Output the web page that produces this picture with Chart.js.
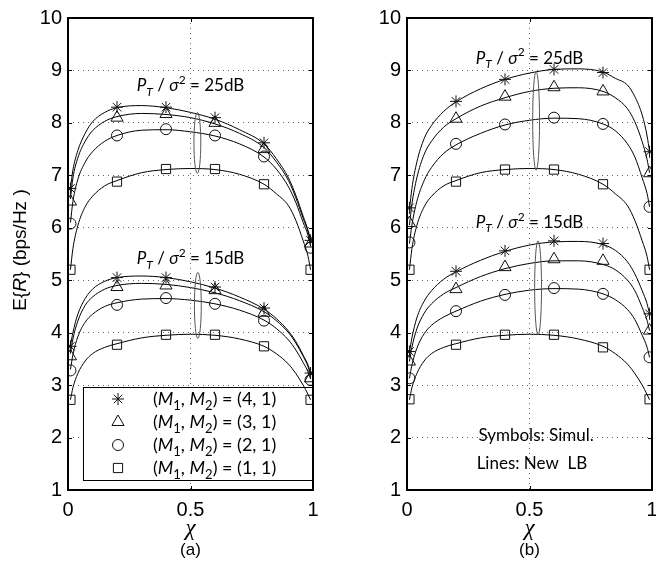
<!DOCTYPE html>
<html>
<head>
<meta charset="utf-8">
<script src="https://cdn.jsdelivr.net/npm/chart.js@4.4.1/dist/chart.umd.min.js"></script>
<style>
  html, body { margin: 0; padding: 0; background: #fff; overflow: hidden; }
  #wrap { position: relative; width: 656px; height: 564px; overflow: hidden; }
  #pa { position: absolute; left: 0; top: 0; }
  #pb { position: absolute; left: 330px; top: 0; }
</style>
</head>
<body>
<div id="wrap">
  <canvas id="pa" width="330" height="564"></canvas>
  <canvas id="pb" width="340" height="564"></canvas>
</div>
<script>
// x positions of the simulated points and of the lower-bound curves
const simX  = [0.01, 0.2, 0.4, 0.6, 0.8, 0.99];
const lineX = [0.01, 0.02, 0.04, 0.07, 0.1, 0.15, 0.2, 0.3, 0.4, 0.5, 0.6, 0.7, 0.8, 0.85, 0.9, 0.93, 0.96, 0.98, 0.99];
const seriesLabels = ['(4, 1)', '(3, 1)', '(2, 1)', '(1, 1)'];
const markerStyles = ['star', 'triangle', 'circle', 'rect'];
const yTicks = [1, 2, 3, 4, 5, 6, 7, 8, 9, 10];
const xTicks = [0, 0.5, 1];

// panel (a), symbols: simulation
const a25Sim41 = [6.75, 8.30, 8.30, 8.10, 7.62, 5.76];
const a25Sim31 = [6.50, 8.10, 8.17, 8.00, 7.50, 5.70];
const a25Sim21 = [6.08, 7.76, 7.88, 7.76, 7.36, 5.62];
const a25Sim11 = [5.20, 6.88, 7.12, 7.12, 6.83, 5.20];
const a15Sim41 = [3.74, 5.05, 5.05, 4.87, 4.47, 3.23];
const a15Sim31 = [3.55, 4.87, 4.90, 4.81, 4.38, 3.13];
const a15Sim21 = [3.28, 4.53, 4.66, 4.55, 4.23, 3.10];
const a15Sim11 = [2.72, 3.77, 3.96, 3.96, 3.74, 2.72];

// panel (a), lines: new lower bound
const a25Lb41 = [6.75, 7.10, 7.47, 7.80, 8.02, 8.20, 8.29, 8.33, 8.29, 8.20, 8.07, 7.87, 7.60, 7.32, 6.95, 6.62, 6.22, 5.95, 5.78];
const a25Lb31 = [6.55, 6.95, 7.33, 7.65, 7.85, 8.03, 8.12, 8.18, 8.16, 8.10, 7.98, 7.80, 7.53, 7.26, 6.90, 6.57, 6.18, 5.92, 5.74];
const a25Lb21 = [6.10, 6.50, 6.92, 7.25, 7.45, 7.65, 7.76, 7.86, 7.87, 7.83, 7.75, 7.60, 7.35, 7.12, 6.78, 6.48, 6.10, 5.85, 5.65];
const a25Lb11 = [5.20, 5.60, 6.04, 6.40, 6.60, 6.80, 6.90, 7.05, 7.11, 7.13, 7.11, 7.02, 6.83, 6.65, 6.42, 6.14, 5.75, 5.45, 5.20];
const a15Lb41 = [3.75, 4.00, 4.35, 4.65, 4.83, 4.98, 5.05, 5.08, 5.05, 4.97, 4.85, 4.68, 4.45, 4.27, 4.03, 3.83, 3.57, 3.38, 3.25];
const a15Lb31 = [3.60, 3.88, 4.22, 4.52, 4.68, 4.83, 4.90, 4.94, 4.92, 4.86, 4.76, 4.61, 4.40, 4.23, 4.00, 3.80, 3.55, 3.35, 3.20];
const a15Lb21 = [3.30, 3.58, 3.92, 4.20, 4.35, 4.50, 4.57, 4.64, 4.65, 4.62, 4.55, 4.43, 4.24, 4.08, 3.86, 3.67, 3.43, 3.25, 3.12];
const a15Lb11 = [2.72, 2.95, 3.22, 3.46, 3.60, 3.72, 3.79, 3.90, 3.95, 3.97, 3.95, 3.88, 3.74, 3.60, 3.40, 3.22, 3.00, 2.82, 2.72];

// panel (b), symbols: simulation
const b25Sim41 = [6.38, 8.41, 8.83, 9.02, 8.96, 7.45];
const b25Sim31 = [6.09, 8.08, 8.50, 8.68, 8.60, 7.04];
const b25Sim21 = [5.72, 7.60, 7.97, 8.10, 7.98, 6.40];
const b25Sim11 = [5.20, 6.88, 7.11, 7.11, 6.83, 5.20];
const b15Sim41 = [3.64, 5.17, 5.56, 5.75, 5.70, 4.36];
const b15Sim31 = [3.45, 4.83, 5.25, 5.40, 5.37, 4.04];
const b15Sim21 = [3.13, 4.41, 4.72, 4.85, 4.74, 3.53];
const b15Sim11 = [2.73, 3.77, 3.96, 3.96, 3.72, 2.73];

// panel (b), lines: new lower bound
const b25Lb41 = [6.35, 6.75, 7.25, 7.70, 7.95, 8.22, 8.40, 8.65, 8.83, 8.95, 9.02, 9.03, 8.97, 8.85, 8.72, 8.50, 8.15, 7.75, 7.45];
const b25Lb31 = [6.05, 6.45, 6.95, 7.40, 7.65, 7.92, 8.08, 8.32, 8.48, 8.60, 8.66, 8.67, 8.60, 8.48, 8.27, 8.02, 7.64, 7.30, 7.05];
const b25Lb21 = [5.70, 6.05, 6.50, 6.90, 7.15, 7.42, 7.58, 7.80, 7.96, 8.05, 8.09, 8.08, 7.98, 7.85, 7.60, 7.35, 6.95, 6.65, 6.40];
const b25Lb11 = [5.20, 5.60, 6.04, 6.40, 6.60, 6.80, 6.90, 7.05, 7.11, 7.13, 7.11, 7.02, 6.83, 6.65, 6.42, 6.14, 5.75, 5.45, 5.20];
const b15Lb41 = [3.62, 3.90, 4.28, 4.60, 4.80, 5.02, 5.16, 5.38, 5.55, 5.67, 5.73, 5.74, 5.68, 5.57, 5.35, 5.12, 4.80, 4.55, 4.36];
const b15Lb31 = [3.45, 3.72, 4.07, 4.37, 4.55, 4.74, 4.86, 5.07, 5.22, 5.32, 5.37, 5.37, 5.30, 5.20, 5.00, 4.80, 4.48, 4.23, 4.04];
const b15Lb21 = [3.13, 3.38, 3.70, 3.98, 4.14, 4.30, 4.41, 4.60, 4.73, 4.81, 4.84, 4.83, 4.74, 4.63, 4.44, 4.25, 3.95, 3.72, 3.53];
const b15Lb11 = [2.72, 2.95, 3.22, 3.46, 3.60, 3.72, 3.79, 3.90, 3.95, 3.97, 3.95, 3.88, 3.74, 3.60, 3.40, 3.22, 3.00, 2.82, 2.72];

const markerRadius = { star: 6, triangle: 7, circle: 5.5, rect: 6.5 };
const FONT_AX = '"Liberation Sans", Arial, sans-serif';
const FONT_TX = 'Lato, "Open Sans", "DejaVu Sans", sans-serif';

// text pieces: [text, style]  n=normal i=italic s=sub is=italic sub p=sup
function drawRich(ctx, parts, x, y, size, family, align) {
  const fontOf = st => {
    const it = (st === 'i' || st === 'is') ? 'italic ' : '';
    const sz = (st === 's' || st === 'is' || st === 'p') ? Math.round(size * 0.7) : size;
    return it + sz + 'px ' + family;
  };
  let total = 0;
  parts.forEach(p => { ctx.font = fontOf(p[1]); total += ctx.measureText(p[0]).width; });
  let cx = align === 'center' ? x - total / 2 : x;
  ctx.textAlign = 'left';
  ctx.textBaseline = 'alphabetic';
  parts.forEach(p => {
    ctx.font = fontOf(p[1]);
    let dy = 0;
    if (p[1] === 's' || p[1] === 'is') dy = size * 0.25;
    if (p[1] === 'p') dy = -size * 0.42;
    ctx.fillText(p[0], cx, y + dy);
    cx += ctx.measureText(p[0]).width;
  });
}

function snrParts(db) {
  return [['P', 'i'], ['T', 'is'], [' / ', 'n'], ['\u03c3', 'i'], ['2', 'p'], [' = ' + db + 'dB', 'n']];
}

const decor = {
  id: 'decor',
  beforeDatasetsDraw(chart, args, o) {
    const ctx = chart.ctx;
    if (!o.legend) return;
    ctx.save();
    const L = o.legend;
    ctx.fillStyle = '#fff';
    ctx.fillRect(L.x, L.y, L.w, L.h);
    ctx.strokeStyle = '#000';
    ctx.lineWidth = 1;
    ctx.strokeRect(L.x + 0.5, L.y + 0.5, L.w, L.h);
    seriesLabels.forEach((lab, i) => {
      const yy = L.y + 12 + i * 23;
      ctx.strokeStyle = '#111';
      ctx.fillStyle = 'rgba(0,0,0,0)';
      Chart.helpers.drawPoint(ctx, { pointStyle: markerStyles[i], radius: markerRadius[markerStyles[i]], rotation: 0, borderWidth: 1 }, L.x + 35, yy);
      ctx.fillStyle = '#000';
      drawRich(ctx, [['(', 'n'], ['M', 'i'], ['1', 's'], [', ', 'n'], ['M', 'i'], ['2', 's'], [') = ' + lab, 'n']], L.x + 70, yy + 6, 18, FONT_TX, 'left');
    });
    ctx.restore();
  },
  afterDraw(chart, args, o) {
    const ctx = chart.ctx, a = chart.chartArea, xs = chart.scales.x, ys = chart.scales.y;
    ctx.save();
    // inward tick marks
    ctx.strokeStyle = '#000';
    ctx.lineWidth = 1;
    ctx.beginPath();
    yTicks.forEach(v => {
      const py = Math.round(ys.getPixelForValue(v)) + 0.5;
      ctx.moveTo(a.left, py); ctx.lineTo(a.left + 4, py);
      ctx.moveTo(a.right, py); ctx.lineTo(a.right - 4, py);
    });
    xTicks.forEach(v => {
      const px = Math.round(xs.getPixelForValue(v)) + 0.5;
      ctx.moveTo(px, a.top); ctx.lineTo(px, a.top + 4);
      ctx.moveTo(px, a.bottom); ctx.lineTo(px, a.bottom - 4);
    });
    ctx.stroke();
    // frame
    ctx.lineWidth = 2;
    ctx.strokeRect(a.left, a.top, a.right - a.left, a.bottom - a.top);
    // ellipses grouping the curves
    ctx.strokeStyle = '#555';
    ctx.lineWidth = 1;
    o.ellipses.forEach(e => {
      const cx = xs.getPixelForValue(e.x);
      const y1 = ys.getPixelForValue(e.y1), y2 = ys.getPixelForValue(e.y2);
      const rx = xs.getPixelForValue(e.x + e.hw) - cx;
      ctx.beginPath();
      ctx.ellipse(cx, (y1 + y2) / 2, rx, Math.abs(y2 - y1) / 2, 0, 0, Math.PI * 2);
      ctx.stroke();
    });
    // SNR labels
    ctx.fillStyle = '#000';
    o.snr.forEach(s => {
      drawRich(ctx, snrParts(s.db), xs.getPixelForValue(s.x), ys.getPixelForValue(s.y), 17, FONT_TX, 'center');
    });
    (o.notes || []).forEach(n => {
      ctx.font = '17px ' + FONT_TX;
      ctx.textAlign = 'center';
      ctx.textBaseline = 'middle';
      ctx.fillText(n.text, xs.getPixelForValue(n.x), ys.getPixelForValue(n.y));
    });
    // x-axis title and panel tag
    const mid = (a.left + a.right) / 2;
    ctx.textAlign = 'center';
    ctx.textBaseline = 'middle';
    ctx.font = 'italic 23px "Liberation Serif", serif';
    ctx.fillText('\u03c7', mid, 529);
    ctx.font = '17px ' + FONT_AX;
    ctx.fillText(o.tag, mid, 550);
    // y-axis title
    if (o.yTitle) {
      ctx.translate(19, 250);
      ctx.rotate(-Math.PI / 2);
      drawRich(ctx, [['E{', 'n'], ['R', 'i'], ['} (bps/Hz )', 'n']], 0, 7, 19, FONT_AX, 'center');
    }
    ctx.restore();
  }
};

function simSet(ys, i) {
  return {
    data: simX.map((x, k) => ({ x: x, y: ys[k] })),
    showLine: false,
    pointStyle: markerStyles[i],
    pointRadius: markerRadius[markerStyles[i]],
    pointHoverRadius: markerRadius[markerStyles[i]],
    pointBorderColor: '#111',
    pointBackgroundColor: 'rgba(0,0,0,0)',
    pointBorderWidth: 1,
    order: 0
  };
}
function lbSet(ys) {
  return {
    data: lineX.map((x, k) => ({ x: x, y: ys[k] })),
    showLine: true,
    pointRadius: 0,
    borderColor: '#000',
    borderWidth: 1,
    cubicInterpolationMode: 'monotone',
    order: 1
  };
}

function makePanel(id, sims, lbs, yWidth, padRight, extra) {
  const datasets = [];
  sims.forEach((s, k) => datasets.push(simSet(s, k % 4)));
  lbs.forEach(l => datasets.push(lbSet(l)));
  return new Chart(document.getElementById(id), {
    type: 'scatter',
    data: { datasets },
    plugins: [decor],
    options: {
      responsive: false,
      animation: false,
      layout: { padding: { top: 13, right: padRight, left: 0, bottom: 0 } },
      plugins: { legend: { display: false }, tooltip: { enabled: false }, decor: extra },
      scales: {
        x: {
          type: 'linear', min: 0, max: 1,
          afterFit: s => { s.height = 74; },
          afterBuildTicks: s => { s.ticks = xTicks.map(v => ({ value: v })); },
          ticks: { color: '#000', font: { family: FONT_AX, size: 20 }, padding: 8, maxRotation: 0,
                   callback: v => String(v) },
          grid: { color: '#666', drawTicks: false, lineWidth: 1 },
          border: { display: false, dash: [1, 4] }
        },
        y: {
          type: 'linear', min: 1, max: 10,
          afterFit: s => { s.width = yWidth; },
          afterBuildTicks: s => { s.ticks = yTicks.map(v => ({ value: v })); },
          ticks: { color: '#000', font: { family: FONT_AX, size: 20 }, padding: 6 },
          grid: { color: '#666', drawTicks: false, lineWidth: 1 },
          border: { display: false, dash: [1, 4] }
        }
      }
    }
  });
}

makePanel('pa',
  [a25Sim41, a25Sim31, a25Sim21, a25Sim11, a15Sim41, a15Sim31, a15Sim21, a15Sim11],
  [a25Lb41, a25Lb31, a25Lb21, a25Lb11, a15Lb41, a15Lb31, a15Lb21, a15Lb11],
  68, 17,
  {
    tag: '(a)', yTitle: true,
    legend: { x: 83, y: 387, w: 230, h: 93 },
    ellipses: [{ x: 0.528, y1: 8.2, y2: 7.04, hw: 0.014 }, { x: 0.53, y1: 5.15, y2: 3.89, hw: 0.014 }],
    snr: [{ db: 25, x: 0.5, y: 8.6 }, { db: 15, x: 0.5, y: 5.3 }]
  });

makePanel('pb',
  [b25Sim41, b25Sim31, b25Sim21, b25Sim11, b15Sim41, b15Sim31, b15Sim21, b15Sim11],
  [b25Lb41, b25Lb31, b25Lb21, b25Lb11, b15Lb41, b15Lb31, b15Lb21, b15Lb11],
  77, 18,
  {
    tag: '(b)', yTitle: false,
    ellipses: [{ x: 0.527, y1: 8.98, y2: 7.1, hw: 0.014 }, { x: 0.535, y1: 5.75, y2: 3.96, hw: 0.014 }],
    snr: [{ db: 25, x: 0.5, y: 9.13 }, { db: 15, x: 0.5, y: 6.0 }],
    notes: [{ text: 'Symbols: Simul.', x: 0.527, y: 2.04 }, { text: 'Lines: New  LB', x: 0.51, y: 1.51 }]
  });
</script>
</body>
</html>
